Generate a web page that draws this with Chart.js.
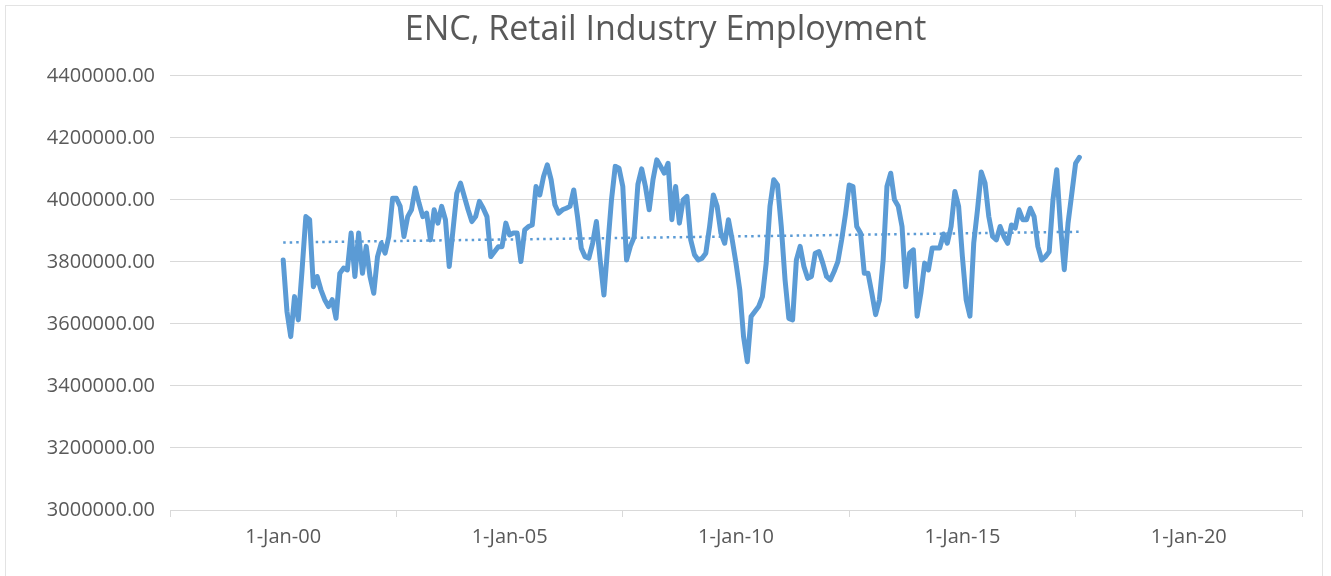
<!DOCTYPE html>
<html>
<head>
<meta charset="utf-8">
<title>ENC, Retail Industry Employment</title>
<script src="https://cdn.jsdelivr.net/npm/chart.js@4.4.1/dist/chart.umd.min.js"></script>
<style>
  html, body { margin: 0; padding: 0; background: #fff; }
  #wrap { position: relative; width: 1331px; height: 576px; overflow: hidden; }
  #frame { position: absolute; left: 5px; top: 5px; width: 1318px; height: 600px; border: 1px solid #e3e3e3; box-sizing: border-box; pointer-events: none; }
  canvas { position: absolute; left: 0; top: 0; }
</style>
</head>
<body>
<div id="wrap">
  <canvas id="lineChart" width="1331" height="576"></canvas>
  <div id="frame"></div>
</div>
<script>
// monthly series, first value is Jan 2000
var startYear = 2000;
var employment = [
  3806000, 3640000, 3559000, 3688000, 3613000, 3774000, 3946000, 3936000, 3720000, 3753000, 3710000, 3678000,
  3656000, 3678000, 3618000, 3763000, 3780000, 3774000, 3893000, 3753000, 3893000, 3763000, 3850000, 3753000,
  3699000, 3817000, 3860000, 3828000, 3882000, 4005000, 4005000, 3979000, 3882000, 3946000, 3968000, 4038000,
  3989000, 3946000, 3957000, 3871000, 3968000, 3925000, 3979000, 3936000, 3785000, 3903000, 4021000, 4054000,
  4011000, 3968000, 3930000, 3946000, 3995000, 3973000, 3946000, 3817000, 3833000, 3849000, 3849000, 3925000,
  3887000, 3893000, 3893000, 3801000, 3903000, 3914000, 3919000, 4043000, 4016000, 4075000, 4113000, 4065000,
  3984000, 3957000, 3968000, 3973000, 3979000, 4032000, 3946000, 3844000, 3817000, 3812000, 3860000, 3930000,
  3806000, 3693000, 3849000, 4000000, 4108000, 4102000, 4043000, 3806000, 3850000, 3880000, 4050000, 4100000,
  4043000, 3968000, 4065000, 4129000, 4108000, 4086000, 4118000, 3936000, 4043000, 3925000, 4000000, 4011000,
  3871000, 3823000, 3806000, 3812000, 3828000, 3914000, 4016000, 3979000, 3893000, 3860000, 3936000, 3871000,
  3796000, 3710000, 3559000, 3478000, 3624000, 3640000, 3656000, 3688000, 3796000, 3979000, 4065000, 4048000,
  3914000, 3742000, 3618000, 3613000, 3806000, 3850000, 3785000, 3747000, 3753000, 3828000, 3833000, 3796000,
  3753000, 3742000, 3769000, 3801000, 3871000, 3952000, 4048000, 4043000, 3914000, 3893000, 3763000, 3763000,
  3699000, 3630000, 3677000, 3806000, 4043000, 4086000, 4000000, 3979000, 3914000, 3720000, 3828000, 3839000,
  3625000, 3699000, 3796000, 3774000, 3845000, 3845000, 3845000, 3890000, 3860000, 3914000, 4027000, 3979000,
  3817000, 3677000, 3625000, 3860000, 3968000, 4090000, 4054000, 3946000, 3882000, 3871000, 3914000, 3882000,
  3860000, 3919000, 3909000, 3968000, 3936000, 3936000, 3973000, 3946000, 3850000, 3806000, 3817000, 3833000,
  4000000, 4097000, 3914000, 3775000, 3925000, 4021000, 4118000, 4137000
];
var xTickLabels = ['1-Jan-00', '1-Jan-05', '1-Jan-10', '1-Jan-15', '1-Jan-20'];
var yMin = 3000000, yMax = 4400000, yStep = 200000;

// x is months since Jan 2000
var points = employment.map(function (v, i) { return { x: i, y: v }; });

// linear trend (least squares)
var n = points.length, sx = 0, sy = 0, sxy = 0, sxx = 0;
points.forEach(function (p) { sx += p.x; sy += p.y; sxy += p.x * p.y; sxx += p.x * p.x; });
var slope = (n * sxy - sx * sy) / (n * sxx - sx * sx);
var icpt = (sy - slope * sx) / n;
var trend = [{ x: 0, y: icpt }, { x: n - 1, y: icpt + slope * (n - 1) }];

var grey = '#595959';
var font = "'Open Sans', sans-serif";

var ctx = document.getElementById('lineChart').getContext('2d');
var chart = new Chart(ctx, {
  type: 'line',
  data: {
    datasets: [{
      label: 'Employment',
      data: points,
      borderColor: '#5b9bd5',
      borderWidth: 5,
      borderJoinStyle: 'round',
      borderCapStyle: 'round',
      pointRadius: 0,
      tension: 0
    }, {
      label: 'Linear trend',
      data: trend,
      borderColor: '#5b9bd5',
      borderWidth: 2.5,
      borderDash: [2.5, 4],
      pointRadius: 0
    }]
  },
  options: {
    responsive: false,
    animation: false,
    layout: { padding: 0 },
    plugins: {
      legend: { display: false },
      tooltip: { enabled: false },
      title: {
        display: true,
        text: 'ENC, Retail Industry Employment',
        color: grey,
        font: { family: font, size: 34, weight: 'normal', lineHeight: 1.2 },
        padding: { top: 10, bottom: 25 }
      }
    },
    scales: {
      x: {
        type: 'linear',
        min: -30,
        max: 270,
        afterBuildTicks: function (scale) {
          var t = [];
          for (var v = -30; v <= 270; v += 30) t.push({ value: v });
          scale.ticks = t;
        },
        afterFit: function (scale) { scale.height = 66; },
        ticks: {
          autoSkip: false,
          maxRotation: 0,
          padding: 8,
          color: grey,
          font: { family: font, size: 20 },
          callback: function (v) {
            return v % 60 === 0 ? xTickLabels[v / 60] : '';
          }
        },
        grid: {
          drawOnChartArea: false,
          drawTicks: true,
          tickLength: 7,
          color: function (c) {
            return c.tick && c.tick.value % 60 === 0 ? 'rgba(0,0,0,0)' : '#d9d9d9';
          }
        },
        border: { color: '#d9d9d9', width: 1 }
      },
      y: {
        min: yMin,
        max: yMax,
        afterFit: function (scale) { scale.width = 170; },
        ticks: {
          stepSize: yStep,
          padding: 15,
          color: grey,
          font: { family: font, size: 20 },
          callback: function (v) { return v.toFixed(2); }
        },
        grid: { color: '#d9d9d9', drawTicks: false },
        border: { display: false }
      },
      // empty right margin so the title stays centred on the whole canvas
      yRight: {
        position: 'right',
        afterFit: function (scale) { scale.width = 29; },
        ticks: { display: false },
        grid: { display: false },
        border: { display: false }
      }
    }
  }
});
</script>
</body>
</html>
